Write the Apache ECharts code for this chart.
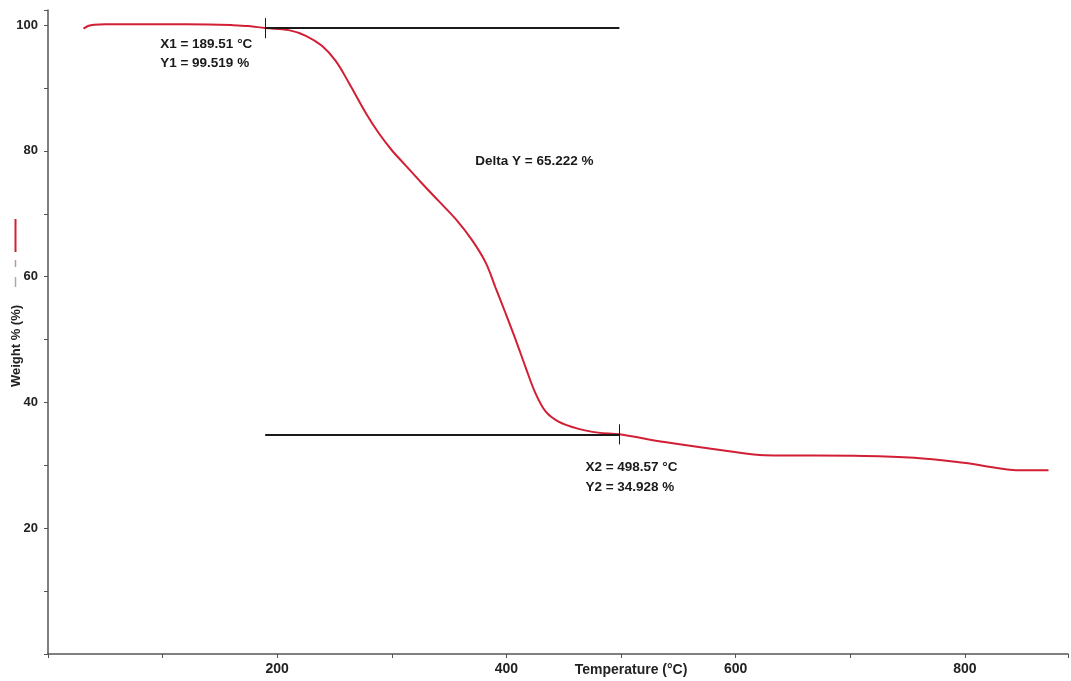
<!DOCTYPE html>
<html>
<head>
<meta charset="utf-8">
<script src="https://cdn.jsdelivr.net/npm/echarts@6/dist/echarts.min.js"></script>
<style>
  html, body { margin: 0; padding: 0; background: #ffffff; }
  #chart { width: 1071px; height: 681px; }
</style>
</head>
<body>
<div id="chart"></div>
<script>
// TGA curve: sample temperature (°C) and remaining weight (%)
const temperature = [31, 35, 40, 50, 100, 140, 160, 175, 189.51, 210, 225, 239, 251, 262.6, 277.4, 288.7, 300, 312, 326, 341, 356, 370, 382, 390.4, 399, 408, 416.5, 425, 434, 445, 463, 480, 498.57, 538, 596, 625, 712, 756, 799, 851, 873];
const weight = [99.45, 99.85, 100.05, 100.15, 100.15, 100.1, 100.0, 99.85, 99.519, 99.2, 98.3, 96.7, 94.3, 90.8, 86.0, 82.8, 80.1, 77.7, 74.9, 72.0, 69.1, 65.8, 62.2, 58.3, 54.3, 50.0, 45.7, 41.6, 38.6, 37.0, 35.8, 35.2, 34.928, 33.7, 32.2, 31.6, 31.5, 31.2, 30.4, 29.2, 29.2];

// Cursor readings (onset and end of the main loss step)
const cursor1 = [189.51, 99.519];
const cursor2 = [498.57, 34.928];
const deltaLabel = 'Delta Y = 65.222 %';

const xTickLabels = [200, 400, 600, 800];
const yTickLabels = [20, 40, 60, 80, 100];
const xTitle = 'Temperature (°C)';
const yTitle = 'Weight % (%)';

const curveColor = '#d21f35';
const inkColor = '#1a1a1a';
const axisColor = '#555555';
const labelFont = '"Liberation Sans Narrow", "Arial Narrow", "Liberation Sans", Arial, sans-serif';
const textFont = '"Liberation Sans", Arial, sans-serif';

const points = temperature.map((t, i) => [t, weight[i]]);
const crossHalf = 1.6; // half-height of the cursor ticks in weight units

const chart = echarts.init(document.getElementById('chart'), null, { renderer: 'canvas' });

chart.setOption({
  animation: false,
  backgroundColor: '#ffffff',
  grid: { left: 48, right: 0, top: 10, bottom: 27, containLabel: false },
  xAxis: {
    type: 'value',
    min: 0,
    max: 890,
    interval: 200,
    axisLine: { show: true, lineStyle: { color: axisColor, width: 1.5 } },
    axisTick: { show: true, length: 4, lineStyle: { color: axisColor } },
    minorTick: { show: true, splitNumber: 2, length: 4, lineStyle: { color: axisColor } },
    splitLine: { show: false },
    axisLabel: {
      margin: 8,
      color: '#222',
      fontWeight: 'bold',
      fontSize: 14,
      fontFamily: labelFont,
      formatter: v => (xTickLabels.indexOf(v) >= 0 ? String(v) : '')
    }
  },
  yAxis: {
    type: 'value',
    min: 0,
    max: 102.4,
    interval: 20,
    axisLine: { show: true, lineStyle: { color: axisColor, width: 1.5 } },
    axisTick: { show: true, length: 4, lineStyle: { color: axisColor } },
    minorTick: { show: true, splitNumber: 2, length: 4, lineStyle: { color: axisColor } },
    splitLine: { show: false },
    axisLabel: {
      margin: 10,
      color: '#222',
      fontWeight: 'bold',
      fontSize: 13,
      fontFamily: textFont,
      formatter: v => (yTickLabels.indexOf(v) >= 0 ? String(v) : '')
    }
  },
  series: [{
    type: 'line',
    data: points,
    showSymbol: false,
    smooth: 0.35,
    lineStyle: { color: curveColor, width: 2 },
    z: 3,
    markLine: {
      silent: true,
      symbol: 'none',
      label: { show: false },
      lineStyle: { color: inkColor, width: 2, type: 'solid' },
      data: [
        [{ coord: [cursor1[0], cursor1[1]] }, { coord: [cursor2[0], cursor1[1]] }],
        [{ coord: [cursor1[0], cursor2[1]] }, { coord: [cursor2[0], cursor2[1]] }],
        [{ coord: [cursor1[0], cursor1[1] - crossHalf], lineStyle: { width: 1 } }, { coord: [cursor1[0], cursor1[1] + crossHalf] }],
        [{ coord: [cursor2[0], cursor2[1] - crossHalf], lineStyle: { width: 1 } }, { coord: [cursor2[0], cursor2[1] + crossHalf] }]
      ]
    }
  }]
});

// Annotations placed relative to the cursor positions
const p1 = chart.convertToPixel({ xAxisIndex: 0, yAxisIndex: 0 }, cursor1);
const p2 = chart.convertToPixel({ xAxisIndex: 0, yAxisIndex: 0 }, cursor2);
const txt = (x, y, s) => ({
  type: 'text', x: x, y: y, z: 10,
  style: { text: s, fill: inkColor, font: 'bold 13.5px ' + textFont, textVerticalAlign: 'middle', textAlign: 'left' }
});

chart.setOption({
  graphic: [
    txt(p1[0] - 105, p1[1] + 16, 'X1 = ' + cursor1[0].toFixed(2) + ' °C'),
    txt(p1[0] - 105, p1[1] + 35, 'Y1 = ' + cursor1[1].toFixed(3) + ' %'),
    txt((p1[0] + p2[0]) / 2 + 33, p1[1] + 133, deltaLabel),
    txt(p2[0] - 34, p2[1] + 33, 'X2 = ' + cursor2[0].toFixed(2) + ' °C'),
    txt(p2[0] - 34, p2[1] + 53, 'Y2 = ' + cursor2[1].toFixed(3) + ' %'),
    // axis titles
    {
      type: 'text', x: 631, y: 670, z: 10,
      style: { text: xTitle, fill: '#222', font: 'bold 14px ' + labelFont, textAlign: 'center', textVerticalAlign: 'middle' }
    },
    {
      type: 'text', x: 16, y: 346, rotation: Math.PI / 2, z: 10,
      style: { text: yTitle, fill: '#222', font: 'bold 13px ' + textFont, textAlign: 'center', textVerticalAlign: 'middle' }
    },
    // series key beside the y title
    { type: 'line', shape: { x1: 15.5, y1: 219, x2: 15.5, y2: 252 }, style: { stroke: curveColor, lineWidth: 2 } },
    { type: 'line', shape: { x1: 15.5, y1: 260, x2: 15.5, y2: 267 }, style: { stroke: '#c98f9a', lineWidth: 1.5 } },
    { type: 'line', shape: { x1: 15.5, y1: 277, x2: 15.5, y2: 287 }, style: { stroke: '#b9a3a8', lineWidth: 1.5 } }
  ]
});
</script>
</body>
</html>
